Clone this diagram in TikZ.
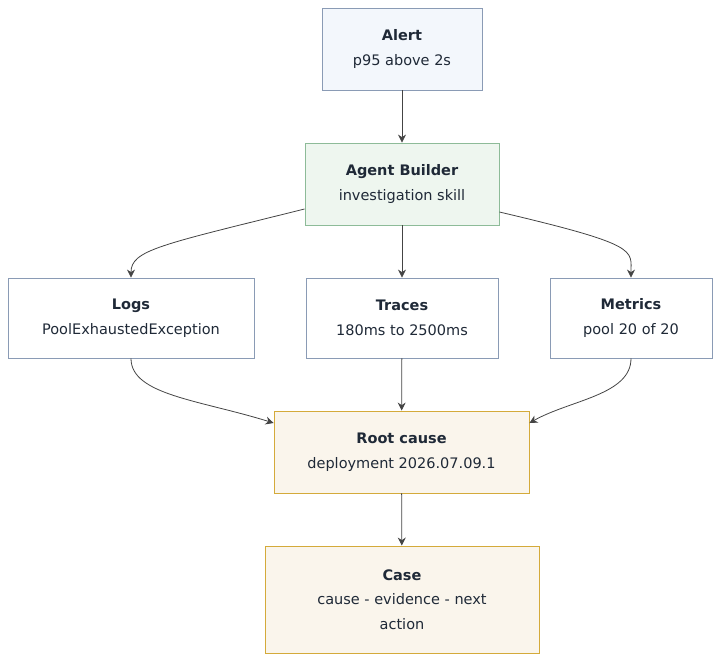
\documentclass[tikz,border=0pt]{standalone}
\usepackage{fontspec}
\setmainfont{DejaVu Sans}
\usetikzlibrary{arrows.meta}
\definecolor{txt}{HTML}{1F2937}
\definecolor{bluefill}{HTML}{F3F7FC}
\definecolor{blueline}{HTML}{8A9BB5}
\definecolor{greenfill}{HTML}{EEF6EF}
\definecolor{greenline}{HTML}{8DBB98}
\definecolor{yelfill}{HTML}{FAF5EC}
\definecolor{yelline}{HTML}{D4AA3A}
\definecolor{edge}{HTML}{444444}
\tikzset{
 box/.style={draw=blueline, fill=white, line width=0.9pt, text=txt, align=center, inner sep=0pt, font=\fontsize{14.5}{24.5}\selectfont},
 conn/.style={draw=edge, line width=0.8pt, -{Stealth[length=8pt,width=8pt]}}
}
\newcommand{\ttl}[1]{\textbf{#1}}
\begin{document}
\begin{tikzpicture}[x=1pt,y=-1pt]
\useasboundingbox (0,0) rectangle (720,662);
\node[box, fill=bluefill, minimum width=160pt, minimum height=82pt] (alert) at (402,49) {\ttl{Alert}\\p95 above 2s};
\node[box, fill=greenfill, draw=greenline, minimum width=194pt, minimum height=82pt] (agent) at (402,184) {\ttl{Agent Builder}\\investigation skill};
\node[box, minimum width=246pt, minimum height=80pt] (logs) at (131,318) {\ttl{Logs}\\PoolExhaustedException};
\node[box, minimum width=192pt, minimum height=80pt] (traces) at (402,318) {\ttl{Traces}\\180ms to 2500ms};
\node[box, minimum width=162pt, minimum height=80pt] (metrics) at (631,318) {\ttl{Metrics}\\pool 20 of 20};
\node[box, fill=yelfill, draw=yelline, minimum width=255pt, minimum height=82pt] (root) at (401.5,452) {\ttl{Root cause}\\deployment 2026.07.09.1};
\node[box, fill=yelfill, draw=yelline, minimum width=274pt, minimum height=107pt] (case) at (402,599.5) {\ttl{Case}\\cause - evidence - next\\action};
\draw[conn] (alert) -- (agent);
\draw[conn] (agent) -- (traces);
\draw[conn] (agent.west|-0,209) .. controls (160,245) and (131,250) .. (logs.north);
\draw[conn] (agent.east|-0,212) .. controls (640,245) and (631,250) .. (metrics.north);
\draw[conn] (logs.south) .. controls (131,395) and (200,400) .. (root.west|-0,423);
\draw[conn] (metrics.south) .. controls (631,395) and (570,400) .. (root.east|-0,423);
\draw[conn] (traces) -- (root);
\draw[conn] (root) -- (case);
\end{tikzpicture}
\end{document}
